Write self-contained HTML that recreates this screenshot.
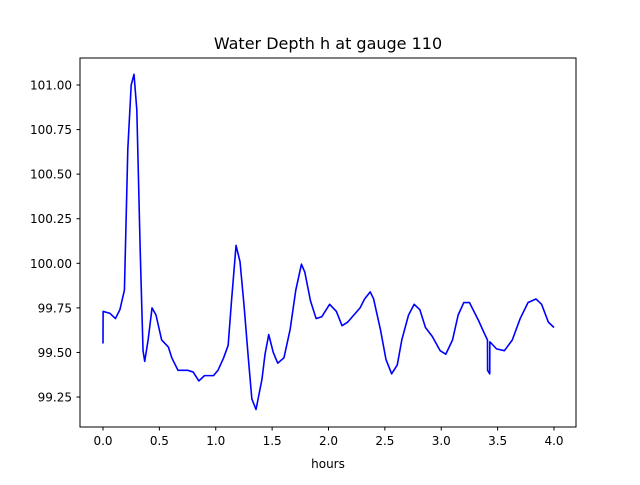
<!DOCTYPE html>
<html><head><meta charset="utf-8"><style>
body{margin:0;background:#fff;}
svg text{font-family:"DejaVu Sans","Liberation Sans",sans-serif;fill:#000;}
</style></head><body>
<svg id="chart" width="640" height="480" viewBox="0 0 640 480">
<rect x="0" y="0" width="640" height="480" fill="#fff"/>
<text x="328" y="49" font-size="16" text-anchor="middle">Water Depth h at gauge 110</text>
<g id="xticks"></g>
<g id="yticks"></g>
<path id="series" fill="none" stroke="#0000ff" stroke-width="1.6" stroke-linejoin="round"/>
<rect x="80" y="58" width="496" height="369" fill="none" stroke="#000" stroke-width="1"/>
<text x="328" y="468" font-size="12" text-anchor="middle">hours</text>
</svg>
<script>
const hours=[0,0.001,0.06,0.11,0.15,0.19,0.22,0.25,0.275,0.30,0.33,0.355,0.37,0.40,0.435,0.47,0.52,0.58,0.61,0.665,0.75,0.80,0.85,0.90,0.98,1.02,1.07,1.11,1.14,1.18,1.215,1.25,1.29,1.32,1.357,1.41,1.437,1.47,1.51,1.55,1.605,1.66,1.71,1.76,1.79,1.84,1.89,1.94,2.01,2.07,2.12,2.17,2.28,2.32,2.37,2.40,2.46,2.51,2.56,2.61,2.65,2.71,2.76,2.81,2.86,2.92,2.99,3.04,3.10,3.15,3.20,3.25,3.33,3.38,3.41,3.411,3.43,3.431,3.49,3.56,3.63,3.70,3.77,3.84,3.89,3.95,4.0];
const depth=[99.55,99.73,99.72,99.69,99.74,99.85,100.64,101.0,101.06,100.86,100.07,99.51,99.45,99.57,99.75,99.71,99.57,99.53,99.47,99.40,99.40,99.39,99.34,99.37,99.37,99.40,99.47,99.54,99.79,100.10,100.01,99.77,99.46,99.24,99.18,99.35,99.49,99.60,99.50,99.44,99.47,99.63,99.85,99.995,99.95,99.79,99.69,99.70,99.77,99.73,99.65,99.67,99.75,99.80,99.84,99.80,99.63,99.46,99.38,99.43,99.57,99.71,99.77,99.74,99.64,99.59,99.51,99.49,99.57,99.71,99.78,99.78,99.68,99.61,99.57,99.40,99.38,99.56,99.52,99.51,99.57,99.69,99.78,99.80,99.77,99.67,99.64];
const xTickLabels=["0.0","0.5","1.0","1.5","2.0","2.5","3.0","3.5","4.0"];
const yTickLabels=["99.25","99.50","99.75","100.00","100.25","100.50","100.75","101.00"];
function xs(v){return 103+(v-0)*112.75;}
function ys(v){return 85+(101-v)*178.3;}
const NS="http://www.w3.org/2000/svg";
const xg=document.getElementById('xticks'),yg=document.getElementById('yticks');
xTickLabels.forEach(t=>{const v=parseFloat(t),x=xs(v);
 const l=document.createElementNS(NS,'line');
 
 
 l.setAttribute('x1',x);l.setAttribute('x2',x);l.setAttribute('y1',427);l.setAttribute('y2',430.5);l.setAttribute('stroke','#000');xg.appendChild(l);
 const tx=document.createElementNS(NS,'text');
 
 
 tx.setAttribute('x',x);tx.setAttribute('y',445);tx.setAttribute('font-size','12');tx.setAttribute('text-anchor','middle');tx.textContent=t;xg.appendChild(tx);});
yTickLabels.forEach(t=>{const v=parseFloat(t),y=ys(v);
 const l=document.createElementNS(NS,'line');
 
 
 l.setAttribute('x1',76.5);l.setAttribute('x2',80);l.setAttribute('y1',y);l.setAttribute('y2',y);l.setAttribute('stroke','#000');yg.appendChild(l);
 const tx=document.createElementNS(NS,'text');
 
 
 tx.setAttribute('x',72);tx.setAttribute('y',y+4.5);tx.setAttribute('font-size','12');tx.setAttribute('text-anchor','end');tx.textContent=t;yg.appendChild(tx);});
document.getElementById('series').setAttribute('d',hours.map((h,i)=>(i?'L':'M')+xs(h).toFixed(2)+' '+ys(depth[i]).toFixed(2)).join(' '));
</script>
</body></html>
